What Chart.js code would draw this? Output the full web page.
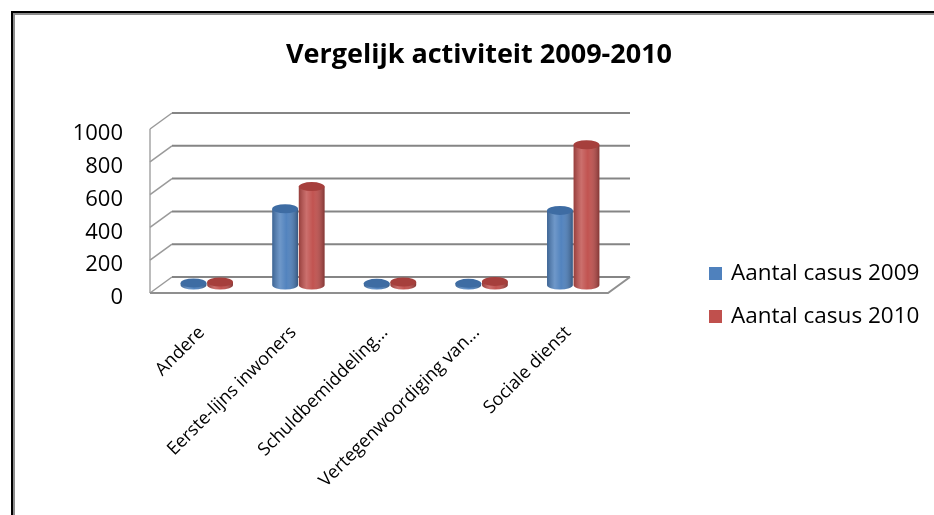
<!DOCTYPE html>
<html>
<head>
<meta charset="utf-8">
<script src="https://cdn.jsdelivr.net/npm/chart.js@4/dist/chart.umd.min.js"></script>
<style>
  html,body{margin:0;padding:0;background:#fff;}
  #wrap{position:relative;width:934px;height:515px;}
</style>
</head>
<body>
<div id="wrap"><canvas id="c" width="934" height="515"></canvas></div>
<script>
// ---- data ----
const categories = ["Andere", "Eerste-lijns inwoners", "Schuldbemiddeling...", "Vertegenwoordiging van...", "Sociale dienst"];
const series2009 = [12, 465, 10, 10, 455];
const series2010 = [18, 600, 18, 22, 855];
const seriesLabels = ["Aantal casus 2009", "Aantal casus 2010"];
const yTicks = [0, 200, 400, 600, 800, 1000];
const chartTitle = "Vergelijk activiteit 2009-2010";

const FONT = "'Open Sans'";
const COLORS = ["#4F81BD", "#C0504D"];
const TOPS = ["#3E6CA3", "#A63F3C"];
const DX = 11, DY = 8; // half depth offset (pseudo 3D)

const framePlugin = {
  id: 'frame',
  beforeDraw(chart) {
    const ctx = chart.ctx;
    ctx.save();
    ctx.fillStyle = '#fff';
    ctx.fillRect(0, 0, chart.width, chart.height);
    ctx.fillStyle = '#000';
    ctx.fillRect(11, 11, chart.width - 11, 2);
    ctx.fillRect(11, 11, 2, chart.height - 11);
    ctx.fillStyle = '#8c8c8c';
    ctx.fillRect(13, 13, chart.width - 13, 2);
    ctx.fillRect(13, 13, 2, chart.height - 13);
    ctx.restore();
  }
};

const wallsPlugin = {
  id: 'walls',
  beforeDatasetsDraw(chart) {
    const ctx = chart.ctx;
    const ys = chart.scales.y;
    const a = chart.chartArea;
    ctx.save();
    ctx.strokeStyle = '#a6a6a6';
    ctx.lineWidth = 1.5;
    ctx.beginPath();
    ctx.moveTo(a.left - DX, ys.getPixelForValue(yTicks[yTicks.length-1]) + DY);
    ctx.lineTo(a.left - DX, ys.getPixelForValue(0) + DY);
    ctx.stroke();
    yTicks.forEach(v => {
      const y = ys.getPixelForValue(v);
      ctx.strokeStyle = '#9a9a9a';
      ctx.lineWidth = 1.5;
      ctx.beginPath();
      ctx.moveTo(a.left - DX, y + DY);
      ctx.lineTo(a.left + DX, y - DY);
      ctx.stroke();
      ctx.strokeStyle = '#858585';
      ctx.lineWidth = 2;
      ctx.beginPath();
      ctx.moveTo(a.left + DX, y - DY);
      ctx.lineTo(a.right + DX, y - DY);
      ctx.stroke();
    });
    const y0 = ys.getPixelForValue(0);
    ctx.strokeStyle = '#8f8f8f';
    ctx.lineWidth = 2;
    ctx.beginPath();
    ctx.moveTo(a.left - DX, y0 + DY);
    ctx.lineTo(a.right - DX, y0 + DY);
    ctx.lineTo(a.right + DX, y0 - DY);
    ctx.stroke();
    ctx.restore();
  },
  afterDatasetsDraw(chart) {
    const ctx = chart.ctx;
    ctx.save();
    chart.data.datasets.forEach((ds, di) => {
      const meta = chart.getDatasetMeta(di);
      meta.data.forEach(el => {
        const p = el.getProps(['x', 'y', 'base', 'width'], true);
        const w = p.width, l = p.x - w / 2, rx = w / 2, ry = 4.5;
        const g = ctx.createLinearGradient(l, 0, l + w, 0);
        g.addColorStop(0, 'rgba(0,0,0,0.22)');
        g.addColorStop(0.3, 'rgba(255,255,255,0.18)');
        g.addColorStop(0.55, 'rgba(255,255,255,0.02)');
        g.addColorStop(1, 'rgba(0,0,0,0.32)');
        ctx.fillStyle = COLORS[di];
        ctx.beginPath();
        ctx.ellipse(p.x, p.base, rx, ry, 0, 0, Math.PI);
        ctx.fill();
        ctx.fillStyle = g;
        ctx.beginPath();
        ctx.rect(l, p.y, w, p.base - p.y);
        ctx.ellipse(p.x, p.base, rx, ry, 0, 0, Math.PI);
        ctx.fill();
        ctx.fillStyle = TOPS[di];
        ctx.beginPath();
        ctx.ellipse(p.x, p.y, rx, ry, 0, 0, Math.PI * 2);
        ctx.fill();
      });
    });
    ctx.restore();
  }
};

const legendPlugin = {
  id: 'customLegend',
  afterDraw(chart) {
    const ctx = chart.ctx;
    ctx.save();
    ctx.font = "22.5px " + FONT;
    ctx.textBaseline = 'middle';
    ctx.textAlign = 'left';
    chart.data.datasets.forEach((ds, i) => {
      const cy = 274 + i * 43;
      ctx.fillStyle = ds.backgroundColor;
      ctx.fillRect(709, cy - 7, 13, 13);
      ctx.fillStyle = '#000';
      ctx.fillText(ds.label, 731, cy);
    });
    ctx.restore();
  }
};

new Chart(document.getElementById('c'), {
  type: 'bar',
  data: {
    labels: categories,
    datasets: [
      { label: seriesLabels[0], data: series2009, backgroundColor: COLORS[0] },
      { label: seriesLabels[1], data: series2010, backgroundColor: COLORS[1] }
    ]
  },
  options: {
    responsive: false,
    animation: false,
    events: [],
    layout: { padding: { left: 24, right: 0, top: 0, bottom: 0 } },
    datasets: { bar: { categoryPercentage: 0.58, barPercentage: 0.97 } },
    plugins: {
      legend: { display: false },
      tooltip: { enabled: false },
      title: {
        display: true,
        text: chartTitle,
        color: '#000',
        font: { family: FONT, size: 27, weight: 'bold', lineHeight: 1.2 },
        padding: { top: 38.8, bottom: 49.8 }
      }
    },
    scales: {
      x: {
        grid: { display: false },
        border: { display: false },
        ticks: {
          autoSkip: false, minRotation: 45, maxRotation: 45,
          color: '#000', padding: 29, labelOffset: -5,
          font: { family: FONT, size: 18 }
        },
        afterFit(s) { s.height = 230; }
      },
      y: {
        min: 0, max: 1000,
        afterBuildTicks(s) { s.ticks = yTicks.map(v => ({ value: v })); },
        grid: { display: false, drawTicks: false },
        border: { display: false },
        ticks: {
          color: '#000', padding: 38, labelOffset: 13,
          font: { family: FONT, size: 22 },
          callback: (v) => String(v)
        },
        afterFit(s) { s.width = 137; }
      },
      yR: {
        position: 'right',
        display: true,
        grid: { display: false, drawTicks: false },
        border: { display: false },
        ticks: { display: false },
        afterFit(s) { s.width = 315; }
      }
    }
  },
  plugins: [framePlugin, wallsPlugin, legendPlugin]
});
</script>
</body>
</html>
